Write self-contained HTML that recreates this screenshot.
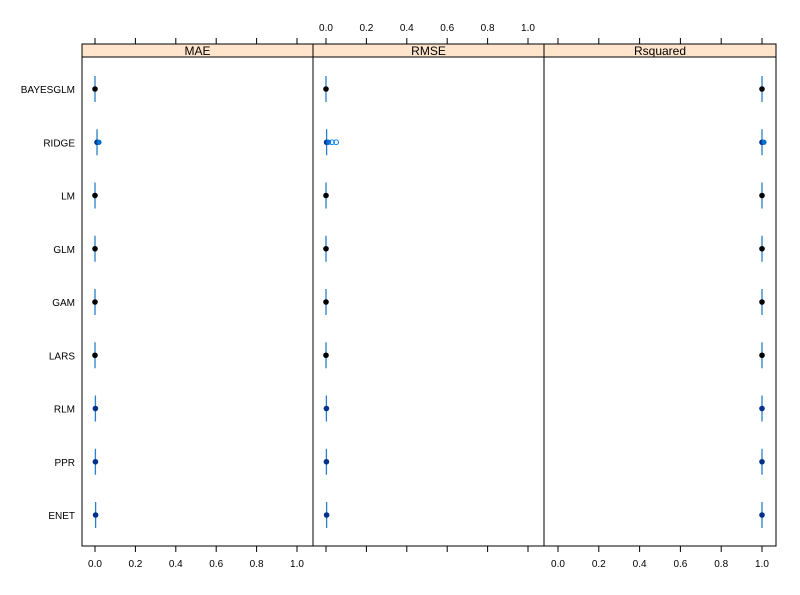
<!DOCTYPE html>
<html><head><meta charset="utf-8"><style>
body{margin:0;background:#fff;}
svg text{font-family:"Liberation Sans",sans-serif;fill:#000;}
</style></head><body>
<svg id="chart" width="800" height="590" xmlns="http://www.w3.org/2000/svg"></svg>
<script>
const models=["BAYESGLM","RIDGE","LM","GLM","GAM","LARS","RLM","PPR","ENET"];
const metrics=["MAE","RMSE","Rsquared"];
const maeMedian=[0,0.01,0,0,0,0,0.002,0.002,0.003];
const rmseMedian=[0,0.003,0,0,0,0,0.002,0.002,0.003];
const rsqMedian=[1,1,1,1,1,1,1,1,1];
const ridgeRmseOutliers=[0.03,0.05];
const ticks=[0,0.2,0.4,0.6,0.8,1.0];
const tickLabels=["0.0","0.2","0.4","0.6","0.8","1.0"];

const NS="http://www.w3.org/2000/svg";
const svg=document.getElementById('chart');
function el(t,a,p){const e=document.createElementNS(NS,t);for(const k in a)e.setAttribute(k,a[k]);(p||svg).appendChild(e);return e;}
const panels=[{x0:82,x1:313,z:95,o:297},{x0:313,x1:544,z:326,o:528},{x0:544,x1:776,z:558,o:762}];
const topY=44,stripB=57,botY=546;
function xs(i,v){const p=panels[i];return p.z+v*(p.o-p.z);}
function ys(j){return 89+j*53.25;}
const series=[maeMedian,rmseMedian,rsqMedian];
panels.forEach((p,i)=>{
  const g=el('g',{});
  
  
  const s=el('rect',{x:p.x0,y:topY,width:p.x1-p.x0,height:stripB-topY,fill:'#ffe5cc',stroke:'#000'},g);
  
  
  const st=el('text',{x:(p.x0+p.x1)/2,y:topY+11,'text-anchor':'middle',style:'font-size:12px'},g);st.textContent=metrics[i];
  
  
  el('rect',{x:p.x0,y:stripB,width:p.x1-p.x0,height:botY-stripB,fill:'none',stroke:'#000'},g);
  ticks.forEach((t,k)=>{
    const x=xs(i,t);
    el('line',{x1:x,x2:x,y1:topY,y2:topY-6,stroke:'#000'},g);
    el('line',{x1:x,x2:x,y1:botY,y2:botY+6,stroke:'#000'},g);
    if(i===1){const tx=el('text',{x:x,y:31,'text-anchor':'middle',style:'font-size:10px'},g);tx.textContent=tickLabels[k];
      }
    if(i!==1){const tx=el('text',{x:x,y:567,'text-anchor':'middle',style:'font-size:10px'},g);tx.textContent=tickLabels[k];
      }
  });
  series[i].forEach((v,j)=>{
    const x=xs(i,v),y=ys(j);
    const w=el('line',{x1:x,x2:x,y1:y-13,y2:y+13,stroke:'#2a7fc9','stroke-width':1.3},g);
    
    
    const c=el('circle',{cx:x,cy:y,r:2.8,fill:(j===1||j>=6)?'#00308a':'#000'},g);
    
    
    if(j===1){const b=el('circle',{cx:x+2,cy:y,r:2.6,fill:'#0070d0'},g);
      }
  });
});
ridgeRmseOutliers.forEach(v=>{
  const c=el('circle',{cx:xs(1,v),cy:ys(1),r:2.4,fill:'none',stroke:'#0080ff'});
  
  
});
models.forEach((m,j)=>{
  const t=el('text',{x:75,y:ys(j)+4,'text-anchor':'end',style:'font-size:10px'});t.textContent=m;
  
  
});
</script>
</body></html>
